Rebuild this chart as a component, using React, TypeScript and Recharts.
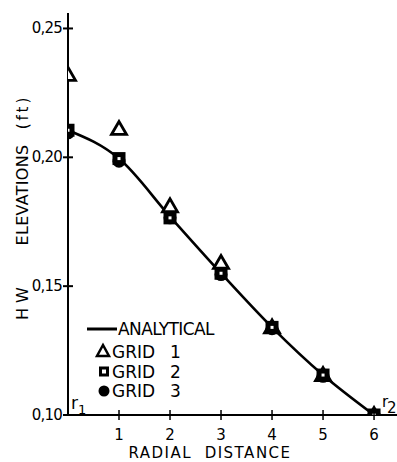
import React from "react";
import { ComposedChart, Line, XAxis, YAxis } from "recharts";

const radialDistance = [0, 1, 2, 3, 4, 5, 6];
const analytical = [0.2105, 0.1995, 0.177, 0.155, 0.134, 0.1155, 0.1];
const grid1 = [0.232, 0.211, 0.181, 0.159, 0.134, 0.1155, 0.1];
const grid2 = [0.2105, 0.1995, 0.1765, 0.155, 0.134, 0.1155, 0.1];
const grid3 = [0.2095, 0.1985, 0.1765, 0.1545, 0.1335, 0.115, 0.1];
const xTicks = [1, 2, 3, 4, 5, 6];
const yTicks = [0.1, 0.15, 0.2, 0.25];

const data = radialDistance.map((x, i) => ({
  x,
  analytical: analytical[i],
  grid1: grid1[i],
  grid2: grid2[i],
  grid3: grid3[i],
}));

const FONT = "'DejaVu Sans', sans-serif";

const fmt = (v: number) => v.toFixed(2).replace(".", ",");

const YTick = (props: any) => {
  const { x, y, payload } = props;
  return (
    <g>
      <line x1={x - 5} x2={x + 5} y1={y} y2={y} stroke="#000" strokeWidth={2} />
      <text x={x - 6} y={y} dy={5} textAnchor="end" fontSize={15} fontFamily={FONT} fill="#000" letterSpacing={-0.8}>
        {fmt(payload.value)}
      </text>
    </g>
  );
};

const XTick = (props: any) => {
  const { x, y, payload } = props;
  return (
    <g>
      <line x1={x} x2={x} y1={y - 5} y2={y + 5} stroke="#000" strokeWidth={1.5} />
      <text x={x} y={y + 25} textAnchor="middle" fontSize={15} fontFamily={FONT} fill="#000">
        {payload.value}
      </text>
    </g>
  );
};

const Triangle = (props: any) => {
  const { cx, cy } = props;
  if (cx == null || cy == null) return null;
  return (
    <polygon
      points={`${cx},${cy - 7.5} ${cx - 7.5},${cy + 5.5} ${cx + 7.5},${cy + 5.5}`}
      fill="#fff"
      stroke="#000"
      strokeWidth={2.8}
      strokeLinejoin="miter"
    />
  );
};

const Square = (props: any) => {
  const { cx, cy } = props;
  if (cx == null || cy == null) return null;
  return <rect x={cx - 4} y={cy - 4} width={8} height={8} fill="#fff" stroke="#000" strokeWidth={5} />;
};

const Dot = (props: any) => {
  const { cx, cy } = props;
  if (cx == null || cy == null) return null;
  return <circle cx={cx} cy={cy} r={6.5} fill="#000" />;
};

export default function App() {
  return (
    <div style={{ position: "absolute", left: 0, top: 0, width: 397, height: 462, background: "#fff" }}>
      <ComposedChart width={397} height={462} data={data} margin={{ top: 13, right: 0, left: 0, bottom: 0 }}>
        <XAxis
          dataKey="x"
          type="number"
          domain={[0, 6.45]}
          ticks={xTicks}
          height={47}
          axisLine={{ stroke: "#000", strokeWidth: 2 }}
          tickLine={false}
          tickSize={0}
          tickMargin={0}
          tick={<XTick />}
          allowDataOverflow
          interval={0}
        />
        <YAxis
          type="number"
          domain={[0.1, 0.256]}
          ticks={yTicks}
          width={68}
          axisLine={{ stroke: "#000", strokeWidth: 2 }}
          tickLine={false}
          tickSize={0}
          tickMargin={0}
          tick={<YTick />}
          allowDataOverflow
          interval={0}
        />
        <Line
          dataKey="analytical"
          type="monotone"
          stroke="#000"
          strokeWidth={2.6}
          dot={false}
          isAnimationActive={false}
        />
        <Line dataKey="grid1" stroke="none" dot={<Triangle />} activeDot={false} isAnimationActive={false} />
        <Line dataKey="grid3" stroke="none" dot={<Dot />} activeDot={false} isAnimationActive={false} />
        <Line dataKey="grid2" stroke="none" dot={<Square />} activeDot={false} isAnimationActive={false} />
      </ComposedChart>
      <svg
        width={397}
        height={462}
        style={{ position: "absolute", left: 0, top: 0, pointerEvents: "none" }}
        fontFamily={FONT}
      >
        {/* Y axis title */}
        <text transform="translate(28,301) rotate(-90)" textAnchor="middle" fontSize={16} letterSpacing={5} fill="#000">
          HW
        </text>
        <text transform="translate(28,195) rotate(-90)" textAnchor="middle" fontSize={16} letterSpacing={0.3} fill="#000">
          ELEVATIONS
        </text>
        <text transform="translate(28,112) rotate(-90)" textAnchor="middle" fontSize={15} letterSpacing={3} fill="#000">
          (ft)
        </text>
        {/* X axis title */}
        <text x={210} y={458} textAnchor="middle" fontSize={15} letterSpacing={1.5} fill="#000" style={{ whiteSpace: "pre" }}>
          RADIAL  DISTANCE
        </text>
        {/* r1 / r2 */}
        <text x={71} y={409} fontSize={17} fill="#000">r</text>
        <text x={78} y={414} fontSize={13} fill="#000">1</text>
        <text x={382} y={407} fontSize={15} fill="#000">r</text>
        <text x={387} y={413} fontSize={15} fill="#000">2</text>
        {/* Legend */}
        <line x1={87} x2={117} y1={329} y2={329} stroke="#000" strokeWidth={3} />
        <text x={118} y={335} fontSize={17} letterSpacing={-0.6} fill="#000">ANALYTICAL</text>
        <polygon points="103,345 97,356 109,356" fill="#fff" stroke="#000" strokeWidth={2.5} />
        <text x={112} y={358} fontSize={17} fill="#000">GRID</text>
        <text x={170} y={358} fontSize={17} fill="#000">1</text>
        <rect x={100.5} y={368} width={7} height={7} fill="#fff" stroke="#000" strokeWidth={3} />
        <text x={112} y={378} fontSize={17} fill="#000">GRID</text>
        <text x={170} y={378} fontSize={17} fill="#000">2</text>
        <circle cx={104} cy={391} r={5.5} fill="#000" />
        <text x={112} y={397} fontSize={17} fill="#000">GRID</text>
        <text x={170} y={397} fontSize={17} fill="#000">3</text>
      </svg>
    </div>
  );
}
